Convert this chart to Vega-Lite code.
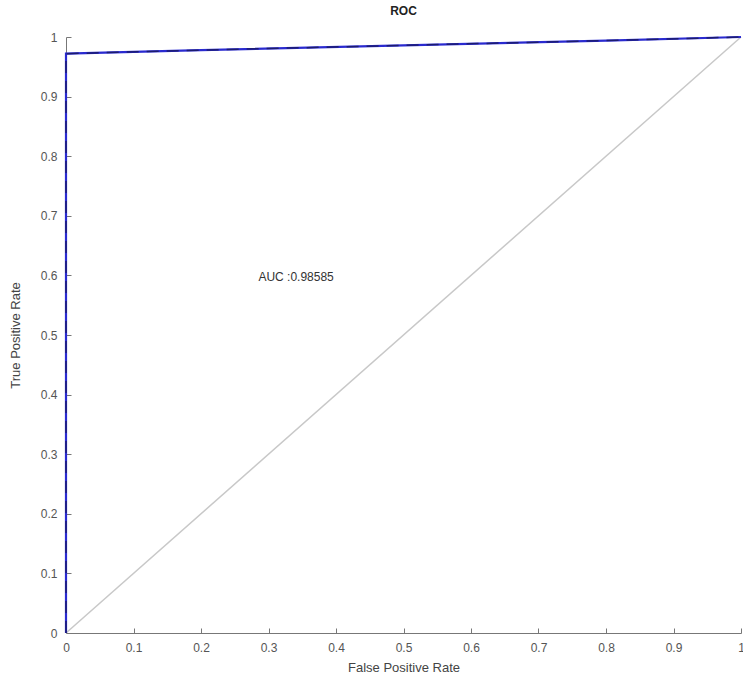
{
  "$schema": "https://vega.github.io/schema/vega-lite/v6.json",
  "width": 675,
  "height": 596,
  "autosize": {"type": "none"},
  "padding": {"left": 66, "top": 37, "right": 2, "bottom": 47},
  "background": "white",
  "title": {"text": "ROC", "fontSize": 12, "font": "Liberation Sans", "fontWeight": "bold", "color": "#222", "offset": 13},
  "config": {
    "view": {"stroke": null},
    "axis": {"grid": false, "domainColor": "#777", "tickColor": "#777", "labelColor": "#555", "titleColor": "#444", "labelFont": "Liberation Sans", "titleFont": "Liberation Sans", "labelFontSize": 12, "titleFontSize": 13, "titleFontWeight": "normal"}
  },
  "datasets": {
    "roc": [
      {"fpr": 0, "tpr": 0},
      {"fpr": 0, "tpr": 0.972},
      {"fpr": 0.2, "tpr": 0.978},
      {"fpr": 0.5, "tpr": 0.986},
      {"fpr": 0.8, "tpr": 0.994},
      {"fpr": 1, "tpr": 1}
    ],
    "diag": [
      {"fpr": 0, "tpr": 0},
      {"fpr": 1, "tpr": 1}
    ],
    "label": [
      {"fpr": 0.285, "tpr": 0.597, "text": "AUC :0.98585"}
    ]
  },
  "layer": [
    {
      "data": {"name": "diag"},
      "mark": {"type": "line", "color": "#c8c8c8", "strokeWidth": 1.5},
      "encoding": {
        "x": {"field": "fpr", "type": "quantitative", "scale": {"domain": [0, 1], "nice": false}, "axis": {"title": "False Positive Rate", "values": [0,0.1,0.2,0.3,0.4,0.5,0.6,0.7,0.8,0.9,1], "labelExpr": "datum.value", "tickSize": -5, "labelPadding": 14, "titlePadding": 8, "labelFlush": false}},
        "y": {"field": "tpr", "type": "quantitative", "scale": {"domain": [0, 1], "nice": false}, "axis": {"title": "True Positive Rate", "values": [0,0.1,0.2,0.3,0.4,0.5,0.6,0.7,0.8,0.9,1], "labelExpr": "datum.value", "tickSize": -5, "labelPadding": 14, "titlePadding": 18, "labelFlush": false}}
      }
    },
    {
      "data": {"name": "roc"},
      "mark": {"type": "line", "color": "#2a2ad0", "strokeWidth": 2.2},
      "encoding": {
        "x": {"field": "fpr", "type": "quantitative"},
        "y": {"field": "tpr", "type": "quantitative"}
      }
    },
    {
      "data": {"name": "roc"},
      "mark": {"type": "line", "color": "#1c1c70", "strokeWidth": 1.5, "strokeDash": [12, 8]},
      "encoding": {
        "x": {"field": "fpr", "type": "quantitative"},
        "y": {"field": "tpr", "type": "quantitative"}
      }
    },
    {
      "data": {"name": "label"},
      "mark": {"type": "text", "align": "left", "baseline": "middle", "font": "Liberation Sans", "fontSize": 12, "color": "#333"},
      "encoding": {
        "x": {"field": "fpr", "type": "quantitative"},
        "y": {"field": "tpr", "type": "quantitative"},
        "text": {"field": "text"}
      }
    }
  ]
}
